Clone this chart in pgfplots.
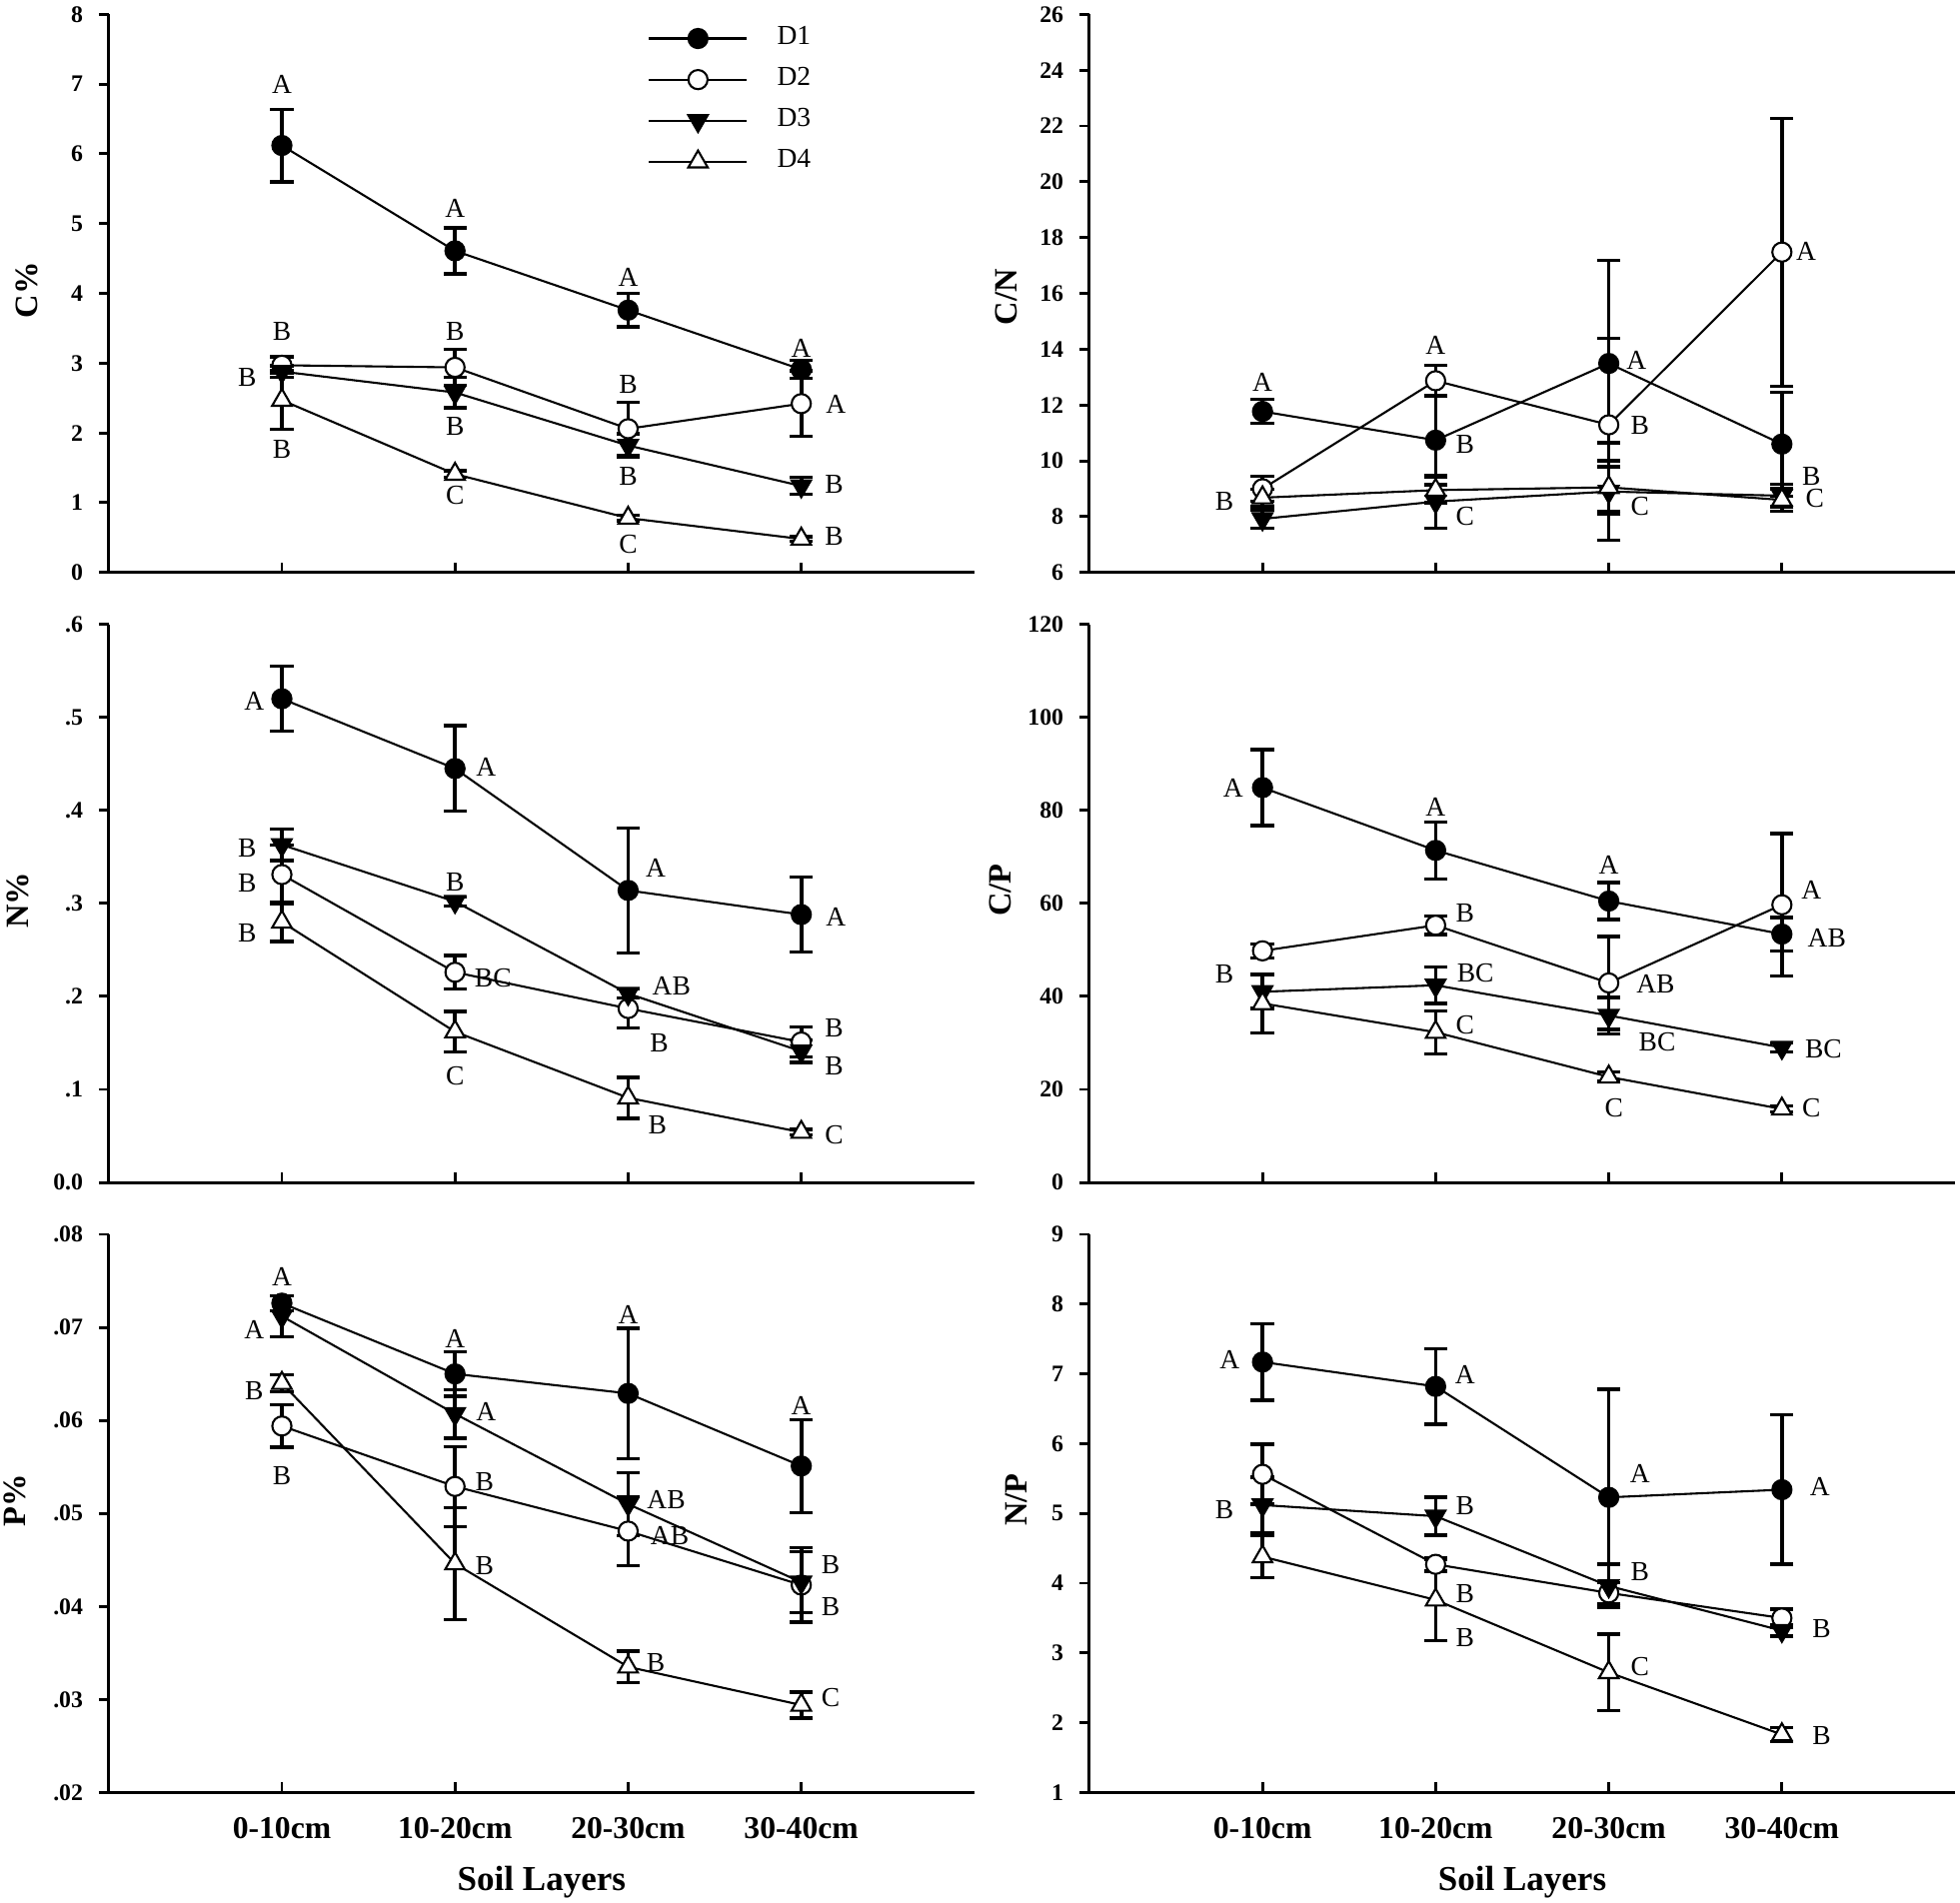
\documentclass[border=0pt]{standalone}
\usepackage{fontspec}
\setmainfont{Liberation Serif}
\usepackage{pgfplots}
\pgfplotsset{compat=1.18}

\newcommand\labfont{\fontsize{6.6}{7}\selectfont}
\newcommand\tfont{\fontsize{5.7}{6.5}\selectfont\bfseries}
\newcommand\xtfont{\fontsize{7.6}{9}\selectfont\bfseries}
\newcommand\alfont{\fontsize{7.8}{9}\selectfont\bfseries}
\newcommand\xlfont{\fontsize{8.4}{10}\selectfont\bfseries}
\newcommand\legfont{\fontsize{6.6}{7}\selectfont}

\pgfplotsset{
  panel/.style={
    scale only axis, width=207.75pt, height=133.95pt,
    anchor=south west,
    xmin=0, xmax=5, xtick={1,2,3,4},
    axis lines=left, axis line style={-, line width=0.7pt},
    tick style={line width=0.7pt, black},
    ytick align=outside, xtick align=inside,
    major tick length=2.4pt,
    scaled y ticks=false,
    yticklabel style={font=\tfont, anchor=east, inner sep=0pt, xshift=-3.6pt},
    xticklabel style={font=\xtfont, anchor=center, yshift=-8.5pt},
    ylabel style={font=\alfont, anchor=center},
    xlabel style={font=\xlfont, at={(axis description cs:0.5,0)}, anchor=center, yshift=-21.6pt},
    clip=false,
    xticklabels={,,,},
  },
  ebar/.style={error bars/y dir=both, error bars/y explicit,
    error bars/error bar style={line width=0.9pt, solid},
    error bars/error mark options={rotate=90, mark size=2.8pt, line width=0.8pt, black, solid}},
  d1/.style={black, line width=0.5pt, mark=*, mark size=2.3pt, mark options={solid, fill=black, line width=0.5pt}, ebar},
  d2/.style={black, line width=0.5pt, mark=*, mark size=2.3pt, mark options={solid, fill=white, line width=0.5pt}, ebar},
  d3/.style={black, line width=0.5pt, mark=triangle*, mark size=2.7pt, mark options={solid, fill=black, rotate=180, line width=0.5pt}, ebar},
  d4/.style={black, line width=0.5pt, mark=triangle*, mark size=2.7pt, mark options={solid, fill=white, line width=0.5pt}, ebar},
}
\tikzset{lab/.style={font=\labfont, inner sep=0pt}}

\begin{document}
\begin{tikzpicture}
\useasboundingbox (0,0) rectangle (470.4pt,456.6pt);

% ---------- C% ----------
\begin{axis}[panel, at={(26.1pt,319.2pt)},
  ymin=0, ymax=8, ytick={0,1,2,3,4,5,6,7,8}, yticklabels={0,1,2,3,4,5,6,7,8},
  ylabel={C\%}, ylabel style={at={(axis description cs:-0.094,0.506)}},
  legend style={at={(axis description cs:0.622,0.995)}, anchor=north west, draw=none, fill=none,
    font=\legfont, row sep=0pt, column sep=5pt, inner sep=0pt, cells={anchor=west}},
  legend image code/.code={\draw[mark repeat=2,mark phase=2] plot coordinates {(0pt,0pt) (11.75pt,0pt) (23.5pt,0pt)};},
]
\addplot[d1] coordinates {(1,6.12) +- (0,0.52) (2,4.61) +- (0,0.33) (3,3.76) +- (0,0.24) (4,2.91) +- (0,0.13)};
\addplot[d2] coordinates {(1,2.97) +- (0,0.12) (2,2.94) +- (0,0.26) (3,2.06) +- (0,0.38) (4,2.42) +- (0,0.47)};
\addplot[d3] coordinates {(1,2.88) +- (0,0.08) (2,2.58) +- (0,0.22) (3,1.82) +- (0,0.17) (4,1.24) +- (0,0.12)};
\addplot[d4] coordinates {(1,2.47) +- (0,0.42) (2,1.41) +- (0,0.05) (3,0.78) +- (0,0.04) (4,0.48) +- (0,0.03)};
\legend{D1,D2,D3,D4}
\node[lab] at (axis cs:1,7.0) {A};
\node[lab] at (axis cs:2,5.22) {A};
\node[lab] at (axis cs:3,4.23) {A};
\node[lab] at (axis cs:4,3.22) {A};
\node[lab] at (axis cs:1,3.45) {B};
\node[lab] at (axis cs:2,3.45) {B};
\node[lab] at (axis cs:3,2.70) {B};
\node[lab] at (axis cs:4.2,2.41) {A};
\node[lab] at (axis cs:0.8,2.79) {B};
\node[lab] at (axis cs:2,2.09) {B};
\node[lab] at (axis cs:3,1.38) {B};
\node[lab] at (axis cs:4.19,1.26) {B};
\node[lab] at (axis cs:1,1.76) {B};
\node[lab] at (axis cs:2,1.10) {C};
\node[lab] at (axis cs:3,0.41) {C};
\node[lab] at (axis cs:4.19,0.52) {B};
\end{axis}

% ---------- C/N ----------
\begin{axis}[panel, at={(261.45pt,319.2pt)},
  ymin=6, ymax=26, ytick={6,8,10,12,14,16,18,20,22,24,26}, yticklabels={6,8,10,12,14,16,18,20,22,24,26},
  ylabel={C/N}, ylabel style={at={(axis description cs:-0.096,0.493)}},
]
\addplot[d1] coordinates {(1,11.77) +- (0,0.43) (2,10.74) +- (0,1.6) (3,13.49) +- (0,3.7) (4,10.6) +- (0,1.86)};
\addplot[d2] coordinates {(1,9.0) +- (0,0.45) (2,12.87) +- (0,0.55) (3,11.29) +- (0,3.1) (4,17.48) +- (0,4.8)};
\addplot[d3] coordinates {(1,7.92) +- (0,0.33) (2,8.54) +- (0,0.95) (3,8.9) +- (0,1.75) (4,8.75) +- (0,0.4)};
\addplot[d4] coordinates {(1,8.68) +- (0,0.3) (2,8.95) +- (0,0.45) (3,9.05) +- (0,0.95) (4,8.6) +- (0,0.4)};
\node[lab] at (axis cs:1,12.83) {A};
\node[lab] at (axis cs:2,14.13) {A};
\node[lab] at (axis cs:3.16,13.6) {A};
\node[lab] at (axis cs:4.17,9.46) {B};
\node[lab] at (axis cs:2.17,10.58) {B};
\node[lab] at (axis cs:3.18,11.26) {B};
\node[lab] at (axis cs:4.14,17.5) {A};
\node[lab] at (axis cs:0.78,8.56) {B};
\node[lab] at (axis cs:2.17,8.02) {C};
\node[lab] at (axis cs:3.18,8.38) {C};
\node[lab] at (axis cs:4.19,8.65) {C};
\end{axis}

% ---------- N% ----------
\begin{axis}[panel, at={(26.1pt,172.8pt)},
  ymin=0, ymax=0.6, ytick={0,0.1,0.2,0.3,0.4,0.5,0.6}, yticklabels={0.0,.1,.2,.3,.4,.5,.6},
  ylabel={N\%}, ylabel style={at={(axis description cs:-0.105,0.506)}},
]
\addplot[d1] coordinates {(1,0.520) +- (0,0.035) (2,0.445) +- (0,0.046) (3,0.314) +- (0,0.067) (4,0.288) +- (0,0.040)};
\addplot[d2] coordinates {(1,0.331) +- (0,0.032) (2,0.226) +- (0,0.018) (3,0.187) +- (0,0.021) (4,0.151) +- (0,0.016)};
\addplot[d3] coordinates {(1,0.363) +- (0,0.017) (2,0.302) +- (0,0.005) (3,0.203) +- (0,0.005) (4,0.141) +- (0,0.012)};
\addplot[d4] coordinates {(1,0.280) +- (0,0.021) (2,0.162) +- (0,0.022) (3,0.091) +- (0,0.022) (4,0.054) +- (0,0.003)};
\node[lab] at (axis cs:0.84,0.518) {A};
\node[lab] at (axis cs:2.18,0.447) {A};
\node[lab] at (axis cs:3.16,0.338) {A};
\node[lab] at (axis cs:4.2,0.286) {A};
\node[lab] at (axis cs:0.8,0.36) {B};
\node[lab] at (axis cs:0.8,0.322) {B};
\node[lab] at (axis cs:0.8,0.268) {B};
\node[lab] at (axis cs:2,0.323) {B};
\node[lab] at (axis cs:2.22,0.22) {BC};
\node[lab] at (axis cs:2,0.115) {C};
\node[lab] at (axis cs:3.25,0.211) {AB};
\node[lab] at (axis cs:3.18,0.150) {B};
\node[lab] at (axis cs:3.17,0.062) {B};
\node[lab] at (axis cs:4.19,0.166) {B};
\node[lab] at (axis cs:4.19,0.125) {B};
\node[lab] at (axis cs:4.19,0.051) {C};
\end{axis}

% ---------- C/P ----------
\begin{axis}[panel, at={(261.45pt,172.8pt)},
  ymin=0, ymax=120, ytick={0,20,40,60,80,100,120}, yticklabels={0,20,40,60,80,100,120},
  ylabel={C/P}, ylabel style={at={(axis description cs:-0.103,0.524)}},
]
\addplot[d1] coordinates {(1,84.9) +- (0,8.2) (2,71.4) +- (0,6.1) (3,60.5) +- (0,4.0) (4,53.4) +- (0,3.6)};
\addplot[d2] coordinates {(1,49.8) +- (0,1.5) (2,55.3) +- (0,2.0) (3,42.9) +- (0,10.0) (4,59.7) +- (0,15.3)};
\addplot[d3] coordinates {(1,41.0) +- (0,3.6) (2,42.4) +- (0,3.9) (3,35.9) +- (0,3.9) (4,29.0) +- (0,1.0)};
\addplot[d4] coordinates {(1,38.5) +- (0,6.3) (2,32.3) +- (0,4.6) (3,22.7) +- (0,1.0) (4,15.8) +- (0,0.7)};
\node[lab] at (axis cs:0.83,84.8) {A};
\node[lab] at (axis cs:2,80.8) {A};
\node[lab] at (axis cs:3,68.2) {A};
\node[lab] at (axis cs:4.17,62.8) {A};
\node[lab] at (axis cs:4.26,52.6) {AB};
\node[lab] at (axis cs:2.17,58.0) {B};
\node[lab] at (axis cs:3.27,42.7) {AB};
\node[lab] at (axis cs:0.78,44.8) {B};
\node[lab] at (axis cs:2.23,45.1) {BC};
\node[lab] at (axis cs:2.17,33.8) {C};
\node[lab] at (axis cs:3.28,30.1) {BC};
\node[lab] at (axis cs:4.24,28.7) {BC};
\node[lab] at (axis cs:3.03,16.1) {C};
\node[lab] at (axis cs:4.17,16.1) {C};
\end{axis}

% ---------- P% ----------
\begin{axis}[panel, at={(26.1pt,26.4pt)},
  ymin=0.02, ymax=0.08, ytick={0.02,0.03,0.04,0.05,0.06,0.07,0.08}, yticklabels={.02,.03,.04,.05,.06,.07,.08},
  ylabel={P\%}, ylabel style={at={(axis description cs:-0.108,0.524)}},
  xticklabels={0-10cm,10-20cm,20-30cm,30-40cm}, xlabel={Soil Layers},
]
\addplot[d1] coordinates {(1,0.0726) +- (0,0.0008) (2,0.0650) +- (0,0.0024) (3,0.0629) +- (0,0.0070) (4,0.0551) +- (0,0.0050)};
\addplot[d2] coordinates {(1,0.0594) +- (0,0.0023) (2,0.0529) +- (0,0.0043) (3,0.0481) +- (0,0.0037) (4,0.0423) +- (0,0.0040)};
\addplot[d3] coordinates {(1,0.0712) +- (0,0.0022) (2,0.0607) +- (0,0.0026) (3,0.0510) +- (0,0.0034) (4,0.0426) +- (0,0.0033)};
\addplot[d4] coordinates {(1,0.0640) +- (0,0.0009) (2,0.0446) +- (0,0.0060) (3,0.0335) +- (0,0.0017) (4,0.0294) +- (0,0.0014)};
\node[lab] at (axis cs:1,0.0754) {A};
\node[lab] at (axis cs:0.84,0.0698) {A};
\node[lab] at (axis cs:0.84,0.0632) {B};
\node[lab] at (axis cs:1,0.0540) {B};
\node[lab] at (axis cs:2,0.0688) {A};
\node[lab] at (axis cs:2.18,0.0609) {A};
\node[lab] at (axis cs:2.17,0.0534) {B};
\node[lab] at (axis cs:2.17,0.0444) {B};
\node[lab] at (axis cs:3,0.0714) {A};
\node[lab] at (axis cs:3.22,0.0515) {AB};
\node[lab] at (axis cs:3.24,0.0476) {AB};
\node[lab] at (axis cs:3.16,0.0340) {B};
\node[lab] at (axis cs:4,0.0616) {A};
\node[lab] at (axis cs:4.17,0.0445) {B};
\node[lab] at (axis cs:4.17,0.0400) {B};
\node[lab] at (axis cs:4.17,0.0302) {C};
\end{axis}

% ---------- N/P ----------
\begin{axis}[panel, at={(261.45pt,26.4pt)},
  ymin=1, ymax=9, ytick={1,2,3,4,5,6,7,8,9}, yticklabels={1,2,3,4,5,6,7,8,9},
  ylabel={N/P}, ylabel style={at={(axis description cs:-0.084,0.524)}},
  xticklabels={0-10cm,10-20cm,20-30cm,30-40cm}, xlabel={Soil Layers},
]
\addplot[d1] coordinates {(1,7.17) +- (0,0.55) (2,6.82) +- (0,0.54) (3,5.23) +- (0,1.55) (4,5.34) +- (0,1.07)};
\addplot[d2] coordinates {(1,5.56) +- (0,0.43) (2,4.27) +- (0,0.10) (3,3.86) +- (0,0.15) (4,3.50) +- (0,0.13)};
\addplot[d3] coordinates {(1,5.12) +- (0,0.40) (2,4.96) +- (0,0.27) (3,3.96) +- (0,0.31) (4,3.32) +- (0,0.08)};
\addplot[d4] coordinates {(1,4.38) +- (0,0.30) (2,3.76) +- (0,0.58) (3,2.72) +- (0,0.55) (4,1.83) +- (0,0.10)};
\node[lab] at (axis cs:0.81,7.21) {A};
\node[lab] at (axis cs:2.17,6.99) {A};
\node[lab] at (axis cs:3.18,5.57) {A};
\node[lab] at (axis cs:4.22,5.39) {A};
\node[lab] at (axis cs:0.78,5.05) {B};
\node[lab] at (axis cs:2.17,5.11) {B};
\node[lab] at (axis cs:3.18,4.16) {B};
\node[lab] at (axis cs:2.17,3.85) {B};
\node[lab] at (axis cs:2.17,3.22) {B};
\node[lab] at (axis cs:3.18,2.81) {C};
\node[lab] at (axis cs:4.23,3.35) {B};
\node[lab] at (axis cs:4.23,1.81) {B};
\end{axis}
\end{tikzpicture}
\end{document}
